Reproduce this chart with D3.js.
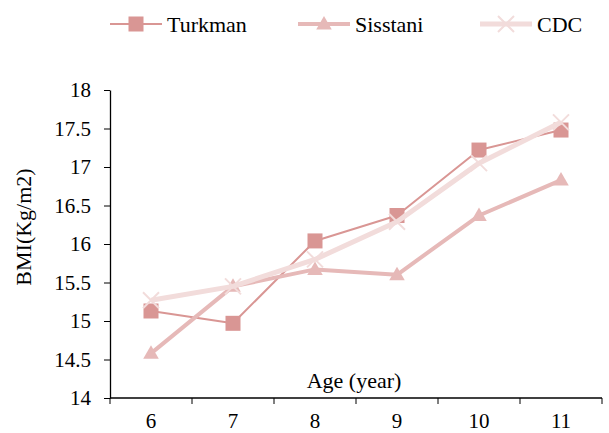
<!DOCTYPE html>
<html>
<head>
<meta charset="utf-8">
<script src="https://cdn.jsdelivr.net/npm/d3@7"></script>
<style>
  body { margin: 0; background: #fff; }
  svg text { font-family: "Liberation Serif", "Times New Roman", serif; fill: #000; }
</style>
</head>
<body>
<div id="chart"></div>
<script>
// data
var ages = ["6", "7", "8", "9", "10", "11"];
var turkman = [15.13, 14.97, 16.04, 16.37, 17.22, 17.48];
var sisstani = [14.58, 15.45, 15.67, 15.60, 16.37, 16.83];
var cdc = [15.27, 15.45, 15.80, 16.29, 17.05, 17.58];
var yTicks = [14, 14.5, 15, 15.5, 16, 16.5, 17, 17.5, 18];

var W = 609, H = 433;
var m = {left: 110, right: 7, top: 90, bottom: 35};
var serif = "Liberation Serif";

var series = [
  {name: "Turkman", values: turkman, color: "#d99694", width: 2, marker: "square"},
  {name: "Sisstani", values: sisstani, color: "#e6b9b8", width: 4, marker: "triangle"},
  {name: "CDC", values: cdc, color: "#f2dcdb", width: 5, marker: "cross"}
];

var svg = d3.select("#chart").append("svg").attr("width", W).attr("height", H)
  .attr("font-family", serif);

var x = d3.scaleBand().domain(ages).range([m.left, W - m.right]);
var y = d3.scaleLinear().domain([14, 18]).range([H - m.bottom, m.top]);

// y axis
var yAxis = svg.append("g").attr("transform", "translate(" + m.left + ",0)")
  .call(d3.axisLeft(y).tickValues(yTicks).tickSize(6).tickSizeOuter(0).tickFormat(d3.format("")));
yAxis.attr("font-family", serif).attr("font-size", 21);
yAxis.select(".domain").attr("stroke", "#000").attr("stroke-width", 1.3);
yAxis.selectAll(".tick line").attr("stroke", "#000");
yAxis.selectAll(".tick text").attr("x", -19);

// x axis, ticks on band edges
var xg = svg.append("g").attr("transform", "translate(0," + (H - m.bottom) + ")");
xg.append("line").attr("x1", m.left).attr("x2", W - m.right)
  .attr("stroke", "#000").attr("stroke-width", 1.3);
var edges = ages.map(function(a){ return x(a); }).concat([x(ages[ages.length - 1]) + x.bandwidth()]);
xg.selectAll(".edge").data(edges).enter().append("line")
  .attr("x1", function(d){ return d; }).attr("x2", function(d){ return d; })
  .attr("y1", 0).attr("y2", 6).attr("stroke", "#000");
xg.selectAll(".lab").data(ages).enter().append("text")
  .attr("x", function(d){ return x(d) + x.bandwidth() / 2; })
  .attr("y", 30).attr("text-anchor", "middle").attr("font-size", 21)
  .text(function(d){ return d; });

// axis titles
svg.append("text").attr("x", 354).attr("y", 388).attr("text-anchor", "middle")
  .attr("font-size", 22).text("Age (year)");
svg.append("text").attr("transform", "translate(31,227) rotate(-90)")
  .attr("text-anchor", "middle").attr("font-size", 22).text("BMI(Kg/m2)");

function drawMarker(g, type, color, cx, cy) {
  if (type === "square") {
    g.append("rect").attr("x", cx - 7.5).attr("y", cy - 7.5).attr("width", 15).attr("height", 15)
      .attr("fill", color);
  } else if (type === "triangle") {
    g.append("path").attr("d", d3.symbol().type(d3.symbolTriangle).size(105)())
      .attr("transform", "translate(" + cx + "," + (cy + 1) + ")").attr("fill", color);
  } else {
    g.append("path").attr("d", "M-8,-8L8,8M-8,8L8,-8")
      .attr("transform", "translate(" + cx + "," + cy + ")")
      .attr("stroke", color).attr("stroke-width", 2).attr("fill", "none");
  }
}

var line = d3.line()
  .x(function(d, i){ return x(ages[i]) + x.bandwidth() / 2; })
  .y(function(d){ return y(d); });

series.forEach(function(s) {
  var g = svg.append("g");
  g.append("path").datum(s.values).attr("d", line)
    .attr("fill", "none").attr("stroke", s.color).attr("stroke-width", s.width)
    .attr("stroke-linejoin", "round");
  s.values.forEach(function(v, i) {
    drawMarker(g, s.marker, s.color, x(ages[i]) + x.bandwidth() / 2, y(v));
  });
});

// legend
var legX = [110, 298, 480];
series.forEach(function(s, i) {
  var g = svg.append("g").attr("transform", "translate(" + legX[i] + ",24)");
  g.append("line").attr("x1", 0).attr("x2", 52).attr("stroke", s.color).attr("stroke-width", s.width);
  drawMarker(g, s.marker, s.color, 26, 0);
  g.append("text").attr("x", 57).attr("y", 8).attr("font-size", 22).text(s.name);
});
</script>
</body>
</html>
